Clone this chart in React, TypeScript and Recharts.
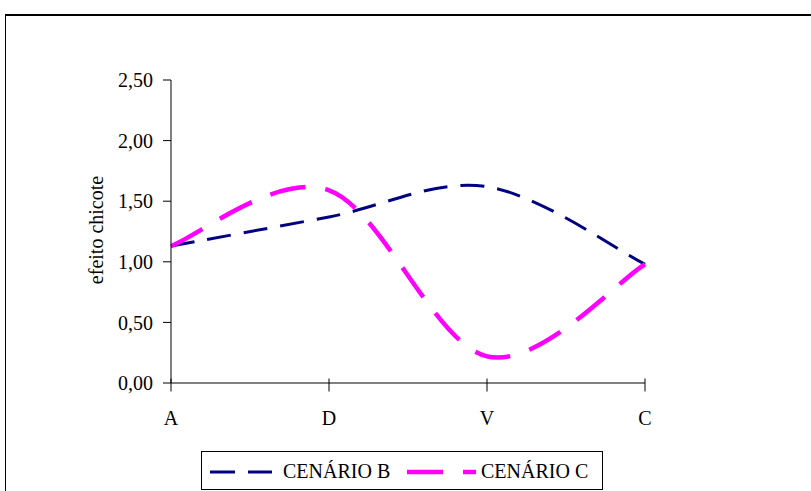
import { Line, LineChart, XAxis, YAxis } from "recharts";

const categories = ["A", "D", "V", "C"];
const cenarioB = [1.13, 1.37, 1.62, 0.98];
const cenarioC = [1.13, 1.59, 0.22, 0.98];
const yTicks = [0, 0.5, 1, 1.5, 2, 2.5];

const seriesInfo = [
  { key: "b", name: "CENÁRIO B", color: "#000080", width: 3, dash: "24 13" },
  { key: "c", name: "CENÁRIO C", color: "#FF00FF", width: 4.5, dash: "36 20" },
];

const data = categories.map((label, i) => ({ label, b: cenarioB[i], c: cenarioC[i] }));

const FONT = "Liberation Serif, serif";

// smoothing like the spreadsheet's "smoothed line" (catmull-rom through the points)
function smoothCurve(context: any) {
  let pts: number[][] = [];
  return {
    areaStart() {},
    areaEnd() {},
    lineStart() {
      pts = [];
    },
    point(x: number, y: number) {
      pts.push([+x, +y]);
    },
    lineEnd() {
      if (!pts.length) return;
      context.moveTo(pts[0][0], pts[0][1]);
      for (let i = 0; i < pts.length - 1; i++) {
        const p0 = pts[Math.max(i - 1, 0)];
        const p1 = pts[i];
        const p2 = pts[i + 1];
        const p3 = pts[Math.min(i + 2, pts.length - 1)];
        context.bezierCurveTo(
          p1[0] + (p2[0] - p0[0]) / 6,
          p1[1] + (p2[1] - p0[1]) / 6,
          p2[0] - (p3[0] - p1[0]) / 6,
          p2[1] - (p3[1] - p1[1]) / 6,
          p2[0],
          p2[1]
        );
      }
    },
  };
}

function fmt(v: number) {
  return v.toFixed(2).replace(".", ",");
}

function XTick({ x, y, payload }: any) {
  return (
    <g>
      <line x1={x} x2={x} y1={y - 6.5} y2={y + 6.5} stroke="#000" />
      <text x={x} y={y + 40} textAnchor="middle" fontSize={20} fontFamily={FONT} fill="#000">
        {payload.value}
      </text>
    </g>
  );
}

function ChartLegend() {
  return (
    <svg width={402} height={39} style={{ position: "absolute", left: 201, top: 451 }}>
      <rect x={0.5} y={0.5} width={401} height={38} fill="#fff" stroke="#000" />
      <line x1={9} x2={71} y1={21} y2={21} stroke={seriesInfo[0].color} strokeWidth={3} strokeDasharray="25 13" />
      <text x={82} y={27} fontSize={20} fontFamily={FONT} fill="#000">
        {seriesInfo[0].name}
      </text>
      <line x1={206} x2={275} y1={21} y2={21} stroke={seriesInfo[1].color} strokeWidth={4.5} strokeDasharray="36 20" />
      <text x={280} y={27} fontSize={20} fontFamily={FONT} fill="#000">
        {seriesInfo[1].name}
      </text>
    </svg>
  );
}

export default function App() {
  return (
    <div
      style={{
        position: "absolute",
        left: 0,
        top: 0,
        width: 811,
        height: 491,
        overflow: "hidden",
        background: "#fff",
        fontFamily: FONT,
      }}
    >
      <div
        style={{
          position: "absolute",
          left: 5,
          top: 14,
          right: -10,
          bottom: -10,
          borderLeft: "1px solid #000",
          borderTop: "2px solid #000",
        }}
      />
      <div style={{ position: "absolute", left: 0, top: 0 }}>
        <LineChart width={811} height={491} data={data} margin={{ top: 80, right: 166, bottom: 0, left: 0 }}>
          <XAxis
            dataKey="label"
            scale="point"
            padding={{ left: 0, right: 0 }}
            height={108}
            axisLine={{ stroke: "#000" }}
            tickLine={false}
            tickSize={0}
            tick={<XTick />}
            interval={0}
          />
          <YAxis
            width={171}
            domain={[0, 2.5]}
            ticks={yTicks}
            tickFormatter={fmt}
            axisLine={{ stroke: "#000" }}
            tickLine={{ stroke: "#000" }}
            tickSize={8}
            tickMargin={10}
            tick={{ fill: "#000", fontSize: 20, fontFamily: FONT }}
            label={{
              content: () => (
                <text
                  x={103}
                  y={230}
                  transform="rotate(-90 103 230)"
                  textAnchor="middle"
                  fontSize={20}
                  fontFamily={FONT}
                  fill="#000"
                >
                  efeito chicote
                </text>
              ),
            }}
          />
          {seriesInfo.map((s) => (
            <Line
              key={s.key}
              dataKey={s.key}
              name={s.name}
              type={smoothCurve as any}
              stroke={s.color}
              strokeWidth={s.width}
              strokeDasharray={s.dash}
              dot={false}
              activeDot={false}
              isAnimationActive={false}
            />
          ))}
        </LineChart>
      </div>
      <ChartLegend />
    </div>
  );
}
